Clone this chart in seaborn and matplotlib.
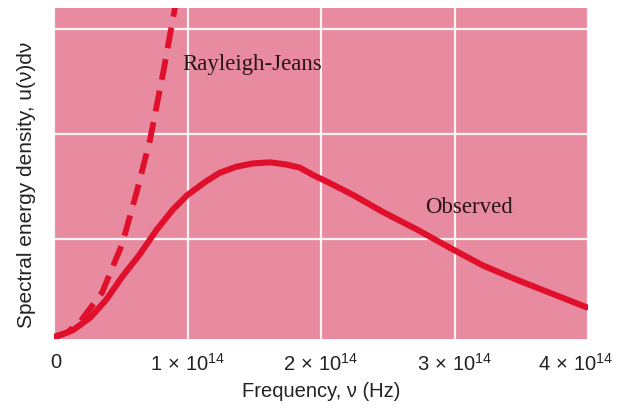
import numpy as np
import pandas as pd
import matplotlib
matplotlib.use("Agg")
import matplotlib.pyplot as plt
import matplotlib.transforms as mtransforms
import seaborn as sns

# ---- data (frequency in units of 1e14 Hz, energy density in arbitrary units) ----
obs_freq = [0.016, 0.14, 0.27, 0.39, 0.51, 0.64, 0.77, 0.89, 1.0, 1.14, 1.24, 1.37,
            1.49, 1.62, 1.74, 1.84, 1.94, 2.07, 2.24, 2.46, 2.72, 2.96, 3.21, 3.47,
            3.71, 3.99]
obs_energy = [0.07, 0.13, 0.25, 0.42, 0.64, 0.85, 1.09, 1.28, 1.42, 1.55, 1.63, 1.69,
              1.72, 1.73, 1.71, 1.68, 1.61, 1.53, 1.42, 1.26, 1.09, 0.92, 0.75, 0.61,
              0.49, 0.35]
rj_freq = [0.0, 0.1, 0.2, 0.36, 0.51, 0.62, 0.72, 0.82, 0.92]
rj_energy = [0.07, 0.11, 0.22, 0.49, 0.95, 1.45, 1.95, 2.6, 3.3]

xtick_vals = [0, 1, 2, 3, 4]
xtick_labels = ["0", r"$1\,\times\,10^{14}$", r"$2\,\times\,10^{14}$",
                r"$3\,\times\,10^{14}$", r"$4\,\times\,10^{14}$"]
ygrid_vals = [1, 2, 3]

obs_df = pd.DataFrame({"freq": obs_freq, "energy": obs_energy})
rj_df = pd.DataFrame({"freq": rj_freq, "energy": rj_energy})

sns.set_theme(style="darkgrid")
plt.rcParams["font.family"] = ["Liberation Sans Narrow", "Liberation Sans", "DejaVu Sans"]
plt.rcParams["mathtext.fontset"] = "custom"
plt.rcParams["mathtext.rm"] = "Liberation Sans"
plt.rcParams["mathtext.it"] = "Liberation Sans"

bg = "#E88BA0"
red = "#E0102C"
txt = "#2a1418"
lab = "#222222"

fig = plt.figure(figsize=(6.18, 4.19), dpi=100, facecolor="white")
ax = fig.add_axes([54 / 618, 1 - 339 / 419, 534 / 618, 331 / 419])
ax.set_facecolor(bg)

sns.lineplot(data=obs_df, x="freq", y="energy", ax=ax, color=red, linewidth=4.4)
sns.lineplot(data=rj_df, x="freq", y="energy", ax=ax, color=red, linewidth=4.2)
ax.lines[0].set_solid_joinstyle("round")
ax.lines[0].set_solid_capstyle("round")
ax.lines[-1].set_linestyle((0, (3.6, 1.9)))

ax.set_xlim(0, 4)
ax.set_ylim(0.048, 3.2)
ax.set_xticks(xtick_vals)
ax.set_xticklabels(xtick_labels)
ax.set_yticks(ygrid_vals)
ax.set_yticklabels([])
ax.grid(True, color="white", linewidth=1.6, alpha=0.9)
ax.tick_params(axis="both", length=0, pad=10, labelsize=14.5, labelcolor=lab)
for s in ax.spines.values():
    s.set_visible(False)

lbls = ax.get_xticklabels()
off = mtransforms.ScaledTranslation(-12 / 100, 0, fig.dpi_scale_trans)
lbls[-1].set_transform(lbls[-1].get_transform() + off)
off0 = mtransforms.ScaledTranslation(2 / 100, 0, fig.dpi_scale_trans)
lbls[0].set_transform(lbls[0].get_transform() + off0)

ax.set_xlabel("Frequency, ν (Hz)", fontsize=14.5, color=lab, labelpad=5)
ax.set_ylabel("Spectral energy density, u(ν)dν", fontsize=15, color=lab)
ax.yaxis.set_label_coords(-0.034, 0.465)

ax.text(0.96, 2.66, "Rayleigh-Jeans", fontsize=16.5, family=["Liberation Serif"],
        color=txt, ha="left", va="center")
ax.text(2.78, 1.30, "Observed", fontsize=16.5, family=["Liberation Serif"],
        color=txt, ha="left", va="center")

fig.savefig("out.png", dpi=100, facecolor="white")
